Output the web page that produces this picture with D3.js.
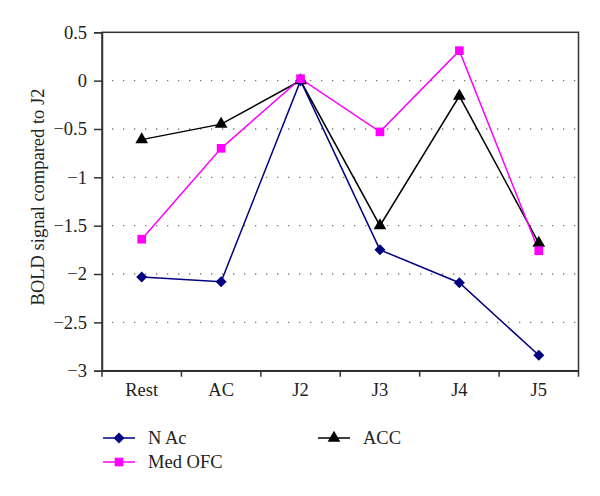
<!DOCTYPE html>
<html><head><meta charset="utf-8">
<script src="https://cdn.jsdelivr.net/npm/d3@7"></script>
<style>body{margin:0;background:#fff;} svg{display:block;}</style>
</head><body>
<svg id="c" width="600" height="496"></svg>
<script>
const categories = ["Rest","AC","J2","J3","J4","J5"];
const nAc    = [-2.03,-2.08,0.00,-1.75,-2.09,-2.84];
const medOFC = [-1.64,-0.70,0.02,-0.53,0.31,-1.76];
const acc    = [-0.61,-0.45,0.00,-1.50,-0.16,-1.68];
const yTicks = [0.5,0,-0.5,-1,-1.5,-2,-2.5,-3];
const seriesNames = ["N Ac","Med OFC","ACC"];

const svg = d3.select("#c");
const L=102, R=578.5, T=32.3, B=370.7;
const font = "'Liberation Serif', 'Times New Roman', serif";
const fs = 18.5;
const x = d3.scaleBand().domain(categories).range([L,R]).padding(0);
const y = d3.scaleLinear().domain([-3,0.5]).range([B,T]);

// gridlines
svg.append("g").selectAll("line").data(yTicks.filter(v=>v>-3&&v<0.5)).join("line")
  .attr("x1",L+10).attr("x2",R-2).attr("y1",d=>y(d)).attr("y2",d=>y(d))
  .attr("stroke","#777").attr("stroke-width",1.3).attr("stroke-dasharray","1.3,9.7");

// frame
svg.append("rect").attr("x",L).attr("y",T).attr("width",R-L).attr("height",B-T)
  .attr("fill","none").attr("stroke","#333").attr("stroke-width",1.5);

// y axis
const ya = svg.append("g").attr("transform",`translate(${L},0)`)
  .call(d3.axisLeft(y).tickValues(yTicks).tickSize(8).tickPadding(7)
    .tickFormat(d=> d<0 ? "\u2212"+Math.abs(d) : String(d)));
ya.attr("font-family",null).attr("font-size",null);
ya.select(".domain").attr("stroke","#333").attr("stroke-width",1.5);
ya.selectAll(".tick line").attr("stroke","#333").attr("stroke-width",1.5);
ya.selectAll("text").style("font-family",font).style("font-size",fs+"px").attr("fill","#222");

// x axis
const xa = svg.append("g").attr("transform",`translate(0,${B})`)
  .call(d3.axisBottom(x).tickSize(0).tickPadding(12));
xa.attr("font-family",null).attr("font-size",null);
xa.select(".domain").attr("stroke","#333").attr("stroke-width",1.5);
xa.selectAll("text").style("font-family",font).style("font-size",fs+"px").attr("fill","#222");
// boundary tick marks
const bounds = categories.map(c=>x(c)).concat([x(categories[5])+x.bandwidth()]);
svg.append("g").selectAll("line").data(bounds).join("line")
  .attr("x1",d=>d).attr("x2",d=>d).attr("y1",B).attr("y2",B+6)
  .attr("stroke","#333").attr("stroke-width",1.5);

// y title
svg.append("text").attr("transform",`translate(44,197) rotate(-90)`)
  .attr("text-anchor","middle").style("font-family",font).style("font-size",fs+"px").attr("fill","#222")
  .text("BOLD signal compared to J2");

const cx = c => x(c)+x.bandwidth()/2;
const line = d3.line().x((d,i)=>cx(categories[i])).y(d=>y(d));

const series = [
  {name:seriesNames[0], vals:nAc, color:"#000080", sym:d3.symbolDiamond, size:60},
  {name:seriesNames[1], vals:medOFC, color:"#ff00ff", sym:d3.symbolSquare, size:75},
  {name:seriesNames[2], vals:acc, color:"#000000", sym:d3.symbolTriangle, size:70},
];
function marker(g, s){
  if(s.sym===d3.symbolDiamond){
    return g.append("path").attr("d","M0,-5.5L5.5,0L0,5.5L-5.5,0Z").attr("fill",s.color);
  }
  return g.append("path").attr("d",d3.symbol(s.sym,s.size)()).attr("fill",s.color);
}
[series[2],series[0],series[1]].forEach(s=>{
  svg.append("path").datum(s.vals).attr("d",line).attr("fill","none")
    .attr("stroke",s.color).attr("stroke-width",1.5);
});
[series[2],series[0],series[1]].forEach(s=>{
  s.vals.forEach((v,i)=>{
    const g = svg.append("g").attr("transform",`translate(${cx(categories[i])},${y(v)})`);
    marker(g,s);
  });
});

// legend
const leg = [
  {s:series[0], x:103, y:438},
  {s:series[1], x:103, y:462},
  {s:series[2], x:318, y:438},
];
leg.forEach(l=>{
  svg.append("line").attr("x1",l.x).attr("x2",l.x+32).attr("y1",l.y).attr("y2",l.y)
    .attr("stroke",l.s.color).attr("stroke-width",1.5);
  const g = svg.append("g").attr("transform",`translate(${l.x+16},${l.y})`);
  marker(g,l.s);
  svg.append("text").attr("x",l.x+45).attr("y",l.y).attr("dy","0.35em")
    .style("font-family",font).style("font-size",fs+"px").attr("fill","#222").text(l.s.name);
});
</script>
</body></html>
